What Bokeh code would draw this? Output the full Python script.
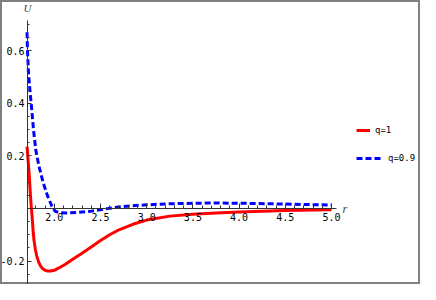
from bokeh.plotting import figure
from bokeh.models import (LinearAxis, FixedTicker, Range1d, Legend, LegendItem, Label,
                          PrintfTickFormatter)
from bokeh.embed import file_html
from bokeh.resources import INLINE

# ---- data ----
r_q1 = [1.705, 1.71, 1.72, 1.73, 1.74, 1.75, 1.76, 1.77, 1.78, 1.795, 1.81, 1.83,
        1.85, 1.875, 1.90, 1.93, 1.96, 2.00, 2.05, 2.12, 2.20, 2.30, 2.40, 2.50,
        2.60, 2.70, 2.85, 3.00, 3.25, 3.50, 3.75, 4.00, 4.50, 5.00]
U_q1 = [0.235, 0.215, 0.17, 0.12, 0.06, 0.01, -0.03, -0.08, -0.12, -0.155, -0.18, -0.203,
        -0.218, -0.229, -0.235, -0.238, -0.238, -0.235, -0.226, -0.212, -0.193, -0.170, -0.146, -0.122,
        -0.100, -0.081, -0.060, -0.044, -0.029, -0.022, -0.017, -0.013, -0.008, -0.005]

r_q09 = [1.705, 1.71, 1.72, 1.735, 1.75, 1.775, 1.80, 1.835, 1.88, 1.925, 1.975, 2.01,
         2.06, 2.12, 2.26, 2.40, 2.50, 2.60, 2.75, 3.00, 3.25, 3.50, 3.75, 4.00, 4.50, 5.00]
U_q09 = [0.67, 0.60, 0.52, 0.455, 0.40, 0.30, 0.222, 0.160, 0.098, 0.05, 0.008, -0.011,
         -0.016, -0.017, -0.015, -0.010, -0.005, 0.001, 0.008, 0.014, 0.018, 0.020, 0.021, 0.020, 0.017, 0.013]

labels = ["q=1", "q=0.9"]

x_major = [2.0, 2.5, 3.0, 3.5, 4.0, 4.5, 5.0]
x_minor = [1.8, 1.9, 2.1, 2.2, 2.3, 2.4, 2.6, 2.7, 2.8, 2.9, 3.1, 3.2, 3.3, 3.4,
           3.6, 3.7, 3.8, 3.9, 4.1, 4.2, 4.3, 4.4, 4.6, 4.7, 4.8, 4.9]
y_major = [-0.2, 0.2, 0.4, 0.6]
y_minor = [-0.25, -0.15, -0.1, -0.05, 0.05, 0.1, 0.15, 0.25, 0.3, 0.35, 0.45, 0.5, 0.55, 0.65, 0.7]

# ---- figure ----
p = figure(width=420, height=284, output_backend="svg", toolbar_location=None,
           x_axis_type=None, y_axis_type=None,
           x_range=Range1d(1.418, 5.963), y_range=Range1d(-0.289, 0.791),
           min_border=0, min_border_left=0, min_border_right=0,
           min_border_top=0, min_border_bottom=0)
p.xgrid.visible = False
p.ygrid.visible = False
p.background_fill_color = "white"
p.border_fill_color = "white"
p.outline_line_color = "#808080"
p.outline_line_width = 3

axis_color = "#333333"
tick_font = "DejaVu Sans Mono"

xaxis = LinearAxis(fixed_location=0, bounds=(1.71, 5.05),
                   ticker=FixedTicker(ticks=x_major, minor_ticks=x_minor),
                   formatter=PrintfTickFormatter(format="%.1f"))
xaxis.axis_line_color = axis_color
xaxis.major_tick_line_color = axis_color
xaxis.minor_tick_line_color = axis_color
xaxis.major_tick_in = 5
xaxis.major_tick_out = 0
xaxis.minor_tick_in = 3
xaxis.minor_tick_out = 0
xaxis.major_label_text_font = tick_font
xaxis.major_label_text_font_size = "10px"
xaxis.major_label_text_color = "black"
xaxis.major_label_standoff = 4
p.add_layout(xaxis, "below")

yaxis = LinearAxis(fixed_location=1.71, bounds=(-0.289, 0.715),
                   ticker=FixedTicker(ticks=y_major, minor_ticks=y_minor),
                   formatter=PrintfTickFormatter(format="%.1f"))
yaxis.axis_line_color = axis_color
yaxis.major_tick_line_color = axis_color
yaxis.minor_tick_line_color = axis_color
yaxis.major_tick_in = 4
yaxis.major_tick_out = 0
yaxis.minor_tick_in = 2
yaxis.minor_tick_out = 0
yaxis.major_label_text_font = tick_font
yaxis.major_label_text_font_size = "10px"
yaxis.major_label_text_color = "black"
yaxis.major_label_standoff = 3
p.add_layout(yaxis, "left")

r1 = p.line(r_q1, U_q1, line_color="#ff0000", line_width=3)
r2 = p.line(r_q09, U_q09, line_color="#0000ff", line_width=3, line_dash="6 3")

p.add_layout(Label(x=1.71, y=0.764, text="U", text_font="Liberation Serif",
                   text_font_style="italic", text_font_size="11px",
                   text_align="center", text_baseline="middle"))
p.add_layout(Label(x=5.12, y=-0.003, text="r", text_font="Liberation Serif",
                   text_font_style="italic", text_font_size="12px",
                   text_align="left", text_baseline="middle"))

def make_legend(item_label, renderer, glyph_w, loc):
    lg = Legend(items=[LegendItem(label=item_label, renderers=[renderer])],
                location=loc, glyph_width=glyph_w, glyph_height=10,
                label_height=10, label_standoff=5, padding=0, margin=0,
                spacing=0, border_line_color=None, background_fill_alpha=0,
                label_text_font=tick_font, label_text_font_size="9px",
                label_text_color="black")
    p.add_layout(lg, "center")

make_legend(labels[0], r1, 14, (356, 149))
make_legend(labels[1], r2, 27, (356, 121))

open("out.html", "w").write(file_html(p, INLINE))
